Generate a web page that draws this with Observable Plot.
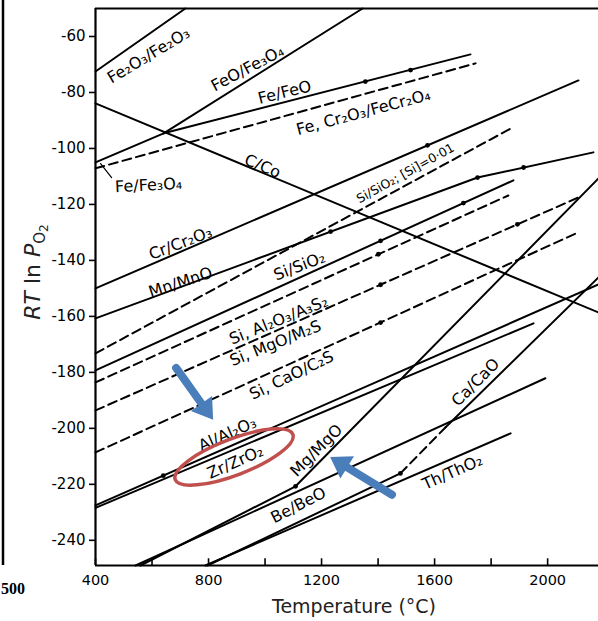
<!DOCTYPE html>
<html><head><meta charset="utf-8">
<script src="https://cdn.jsdelivr.net/npm/d3@7"></script>
<script src="https://cdn.jsdelivr.net/npm/@observablehq/plot@0.6"></script>
<style>
html,body{margin:0;padding:0;background:#fff;}
#chart{position:relative;width:598px;height:621px;overflow:hidden;}
</style></head><body><div id="chart"></div>
<script>
// Axis ticks
const xTickLabels = [400, 800, 1200, 1600, 2000];
const xMinorTicks = [400, 600, 800, 1000, 1200, 1400, 1600, 1800, 2000];
const yTicks = [-60, -80, -100, -120, -140, -160, -180, -200, -220, -240];

// Solid reaction lines: [temperature °C, RT ln pO2]
const fe3o4_fe2o3 = [[400, -72.5], [718, -50]];
const feo_fe3o4 = [[641, -94.6], [1345, -50]];
const fe_feo = [[641, -94.6], [1727, -66.4]];
const fe_fe3o4 = [[400, -105.0], [641, -94.6]];
const fe_fe3o4_leader = [[418, -105.4], [457, -110.4]];
const c_co = [[400, -83.9], [2180, -158.6]];
const cr_cr2o3 = [[400, -150.0], [2109, -75.7]];
const mn_mno = [[400, -160.7], [1752, -110.4], [2162, -101.4]];
const si_sio2 = [[400, -179.3], [1879, -111.4]];
const al_al2o3 = [[400, -227.5], [2180, -148.6]];
const zr_zro2 = [[400, -228.4], [1950, -162.5]];
const mg_mgo = [[559, -249], [1108, -220.7], [2180, -110.7]];
const be_beo = [[542, -249], [1992, -182.1]];
const th_tho2 = [[789, -249], [1869, -201.8]];
const ca_cao_low = [[796, -249], [1479, -216.1]];
const ca_cao_high = [[1639, -199.6], [2180, -146.1]];

// Dashed lines
const fe_cr2o3_fecr2o4 = [[400, -107.1], [1745, -69.6]];
const si_sio2_si001 = [[400, -173.2], [1869, -92.9]];
const si_al2o3_a3s2 = [[400, -183.6], [1861, -116.8]];
const si_mgo_m2s = [[400, -193.6], [2109, -117.5]];
const si_cao_c2s = [[400, -208.6], [2099, -130.4]];
const ca_cao_mid = [[1479, -216.1], [1639, -199.6]];

// Transition points (dots)
const transitionPoints = [
  [1355, -76.1], [1515, -72.0],
  [1575, -98.9],
  [1232, -129.7], [1752, -110.4], [1915, -106.8],
  [1409, -133.0], [1702, -119.5],
  [1401, -137.8],
  [1409, -148.7], [1893, -127.1],
  [1409, -162.2],
  [1479, -216.1],
  [640, -216.9],
  [1108, -220.7]
];

// Line labels
const labelText = ["Fe₂O₃/Fe₂O₃", "FeO/Fe₃O₄", "Fe/FeO", "Fe, Cr₂O₃/FeCr₂O₄", "C/Co", "Fe/Fe₃O₄",
  "Cr/Cr₂O₃", "Mn/MnO", "Si/SiO₂", "Si, Al₂O₃/A₃S₂", "Si, MgO/M₂S", "Si, CaO/C₂S",
  "Al/Al₂O₃", "Zr/ZrO₂", "Mg/MgO", "Be/BeO", "Th/ThO₂", "Ca/CaO"];
const labelT = [588, 938, 1069, 1348, 991, 588, 701, 701, 1122, 1048, 1037, 1094, 867, 895, 1182, 1118, 1663, 1745];
const labelV = [-66.8, -71.4, -80.0, -87.1, -106.4, -113.2, -133.9, -147.9, -142.1, -161.4, -169.6, -181.1, -202.1, -212.1, -207.9, -227.5, -215.7, -183.6];
const labelAngle = [-31, -28, -14, -15, 23, -3, -21, -18, -21, -22, -22, -26, -24, -24, -45, -27, -24, -45];
const smallLabel = {text: "Si/SiO₂; [Si]=0·01", T: 1497, V: -108.9, angle: -29};

// Annotation arrows and highlight (data coordinates)
const arrowTail = [[687, -178.6], [1451, -223.9]];
const arrowTip = [[818, -197.1], [1232, -210.4]];
const ellipseCenter = [892, -210.4];

const solid = [fe3o4_fe2o3, feo_fe3o4, fe_feo, fe_fe3o4, c_co, cr_cr2o3, mn_mno, si_sio2,
  al_al2o3, zr_zro2, mg_mgo, be_beo, th_tho2, ca_cao_low, ca_cao_high];
const dashed = [fe_cr2o3_fecr2o4, si_sio2_si001, si_al2o3_a3s2, si_mgo_m2s, si_cao_c2s, ca_cao_mid];
const rows = list => list.flatMap((pts, i) => pts.map(([T, V]) => ({id: i, T, V})));
const labels = labelText.map((text, i) => ({text, T: labelT[i], V: labelV[i], rot: labelAngle[i]}));

const yMin = -249, yMax = -50;
const plot = Plot.plot({
  width: 598, height: 621,
  marginTop: 8, marginLeft: 95, marginRight: 0, marginBottom: 56,
  x: {domain: [400, 2180]},
  y: {domain: [yMin, yMax]},
  style: {background: "white", fontFamily: "DejaVu Sans, sans-serif", color: "black"},
  marks: [
    Plot.axisY({ticks: yTicks, tickSize: 6, tickPadding: 4, fontSize: 15, label: null,
      tickFormat: d => "-" + Math.abs(d), strokeWidth: 1.6}),
    Plot.axisX({ticks: xTickLabels, tickSize: 0, tickPadding: 9, fontSize: 14.5, label: null,
      tickFormat: d => String(d)}),
    Plot.ruleX(xMinorTicks, {y1: yMin, y2: yMin + 2.4, strokeWidth: 1.6}),
    Plot.ruleX([400], {strokeWidth: 2.2}),
    Plot.ruleY([yMin, yMax], {strokeWidth: 2.2}),
    Plot.line(rows(solid), {x: "T", y: "V", z: "id", stroke: "black", strokeWidth: 2}),
    Plot.line(rows([fe_fe3o4_leader]), {x: "T", y: "V", stroke: "black", strokeWidth: 1.2}),
    Plot.line(rows(dashed), {x: "T", y: "V", z: "id", stroke: "black", strokeWidth: 2, strokeDasharray: "9,5"}),
    Plot.dot(transitionPoints, {x: d => d[0], y: d => d[1], r: 2.4, fill: "black", stroke: null}),
    Plot.text(labels, {x: "T", y: "V", text: "text", rotate: "rot", fontSize: 16, fill: "black"}),
    Plot.text([smallLabel], {x: "T", y: "V", text: "text", rotate: smallLabel.angle, fontSize: 12.5, fill: "black"})
  ]
});
document.getElementById("chart").appendChild(plot);

const svg = d3.select(plot);
const sx = plot.scale("x"), sy = plot.scale("y");
const px = ([T, V]) => [sx.apply(T), sy.apply(V)];

// y-axis title
const yl = svg.append("text").attr("transform", "translate(40,272) rotate(-90)")
  .attr("text-anchor", "middle").attr("font-size", 22).attr("font-family", "DejaVu Sans, sans-serif").attr("fill", "#222");
yl.append("tspan").attr("font-style", "italic").text("RT");
yl.append("tspan").text(" ln ");
yl.append("tspan").attr("font-style", "italic").text("P");
yl.append("tspan").attr("font-size", 15).attr("dy", 5).text("O");
yl.append("tspan").attr("font-size", 12).attr("dy", 3).text("2");

// x-axis title
svg.append("text").attr("x", 354).attr("y", 613).attr("text-anchor", "middle")
  .attr("font-size", 19).attr("font-family", "DejaVu Sans, sans-serif").attr("fill", "#222")
  .text("Temperature (°C)");

// edge of neighbouring figure
svg.append("line").attr("x1", 3).attr("x2", 3).attr("y1", 0).attr("y2", 565).attr("stroke", "black").attr("stroke-width", 2.5);
svg.append("text").attr("x", 1).attr("y", 594).attr("text-anchor", "start")
  .attr("style", "font-size:16px;font-weight:bold;font-family:'Liberation Serif',serif")
  .text("500");

// red highlight ellipse
const [ecx, ecy] = px(ellipseCenter);
svg.append("ellipse").attr("cx", ecx).attr("cy", ecy).attr("rx", 63).attr("ry", 18)
  .attr("transform", `rotate(-21 ${ecx} ${ecy})`)
  .attr("fill", "none").attr("stroke", "#c0504d").attr("stroke-width", 3.5);

// blue arrows
arrowTail.forEach((tail, i) => {
  const [x1, y1] = px(tail), [x2, y2] = px(arrowTip[i]);
  const ang = Math.atan2(y2 - y1, x2 - x1);
  const hl = 20, hw = 13;
  const bx = x2 - hl * Math.cos(ang), by = y2 - hl * Math.sin(ang);
  svg.append("line").attr("x1", x1).attr("y1", y1).attr("x2", bx).attr("y2", by)
    .attr("stroke", "#4a7ebb").attr("stroke-width", 8).attr("stroke-linecap", "round");
  const nx = -Math.sin(ang), ny = Math.cos(ang);
  svg.append("path").attr("d", `M${x2},${y2}L${bx + hw * nx},${by + hw * ny}L${bx - hw * nx},${by - hw * ny}Z`)
    .attr("fill", "#4a7ebb");
});
</script>
</body></html>
